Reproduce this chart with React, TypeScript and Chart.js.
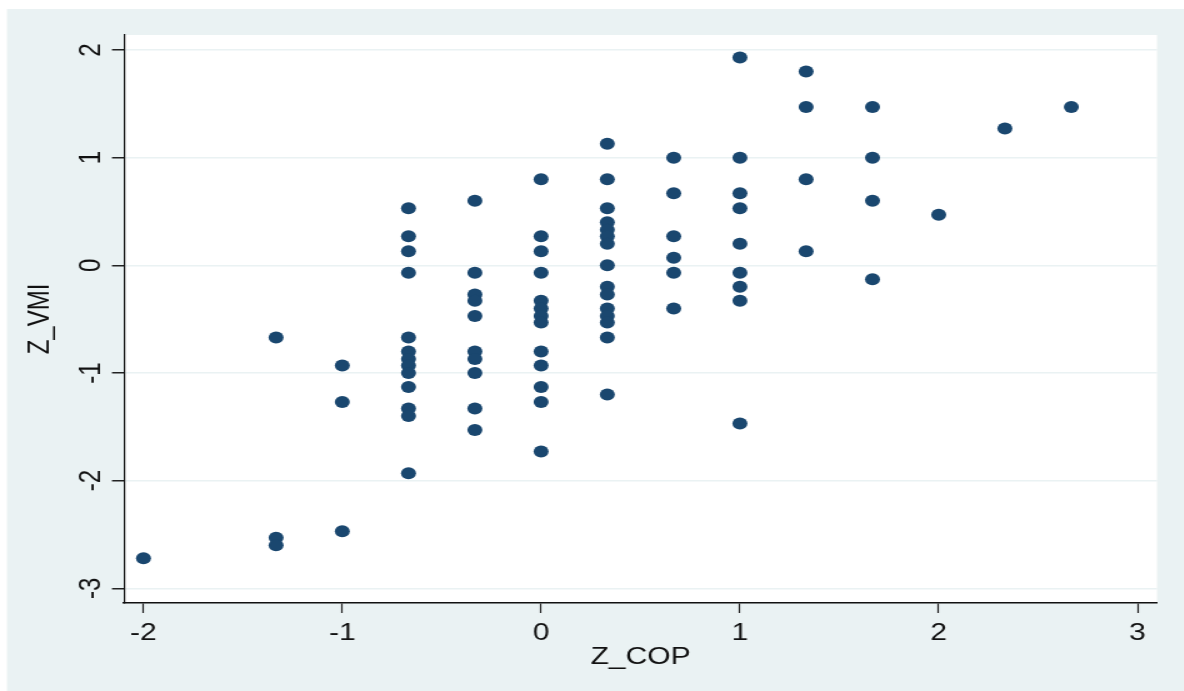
import React, { useEffect, useRef } from "react";
import { Chart, registerables } from "chart.js";

Chart.register(...registerables);

// Z_COP levels (x) and the Z_VMI values (y) observed at each level
const copLevels = [-2, -1.333, -1, -0.667, -0.333, 0, 0.333, 0.667, 1, 1.333, 1.667, 2, 2.333, 2.667];
const vmiAtLevel = [
  [-2.72],
  [-0.67, -2.53, -2.6],
  [-0.93, -1.27, -2.47],
  [0.53, 0.27, 0.13, -0.07, -0.67, -0.8, -0.87, -0.93, -1.0, -1.13, -1.33, -1.4, -1.93],
  [0.6, -0.07, -0.27, -0.33, -0.47, -0.8, -0.87, -1.0, -1.33, -1.53],
  [0.8, 0.27, 0.13, -0.07, -0.33, -0.4, -0.47, -0.53, -0.8, -0.93, -1.13, -1.27, -1.73],
  [1.13, 0.8, 0.53, 0.4, 0.33, 0.27, 0.2, 0, -0.2, -0.27, -0.4, -0.47, -0.53, -0.67, -1.2],
  [1.0, 0.67, 0.27, 0.07, -0.07, -0.4],
  [1.93, 1.0, 0.67, 0.53, 0.2, -0.07, -0.2, -0.33, -1.47],
  [1.8, 1.47, 0.8, 0.13],
  [1.47, 1.0, 0.6, -0.13],
  [0.47],
  [1.27],
  [1.47],
];

const xTicks = [-2, -1, 0, 1, 2, 3];
const yTicks = [-3, -2, -1, 0, 1, 2];
const xTitle = "Z_COP";
const yTitle = "Z_VMI";

const SX = 1.25;
const CW = 947;
const CH = 691;
const BG = "#EAF2F3";
const FONT = "24px 'Liberation Sans', Arial, sans-serif";

export default function App() {
  const ref = useRef<HTMLCanvasElement | null>(null);

  useEffect(() => {
    document.documentElement.style.overflow = "hidden";
    document.body.style.margin = "0";
    if (!ref.current) return;
    const points: { x: number; y: number }[] = [];
    copLevels.forEach((x, i) => vmiAtLevel[i].forEach((y) => points.push({ x, y })));

    const bgPlugin = {
      id: "bg",
      beforeDraw(chart: any) {
        const { ctx, chartArea: a } = chart;
        ctx.save();
        ctx.fillStyle = "#ffffff";
        ctx.fillRect(0, 0, chart.width, chart.height);
        ctx.fillStyle = BG;
        ctx.fillRect(7 / SX, 9, chart.width, chart.height);
        ctx.fillStyle = "#ffffff";
        ctx.fillRect(a.left, a.top, a.right - a.left, a.bottom - a.top);
        ctx.restore();
      },
      afterDraw(chart: any) {
        const { ctx, chartArea: a } = chart;
        const xs = chart.scales.x;
        const ys = chart.scales.y;
        ctx.save();
        ctx.fillStyle = "#111111";
        ctx.font = FONT;
        ctx.textAlign = "center";
        ctx.textBaseline = "alphabetic";
        xs.ticks.forEach((t: any) => {
          ctx.fillText(String(t.value), xs.getPixelForValue(t.value), 640);
        });
        ctx.fillText(xTitle, (a.left + a.right) / 2, 664);
        ys.ticks.forEach((t: any) => {
          ctx.save();
          ctx.translate(79.8, ys.getPixelForValue(t.value));
          ctx.rotate(-Math.PI / 2);
          ctx.fillText(String(t.value), 0, 0);
          ctx.restore();
        });
        ctx.save();
        ctx.translate(38.6, (a.top + a.bottom) / 2);
        ctx.rotate(-Math.PI / 2);
        ctx.fillText(yTitle, 0, 0);
        ctx.restore();
        ctx.restore();
      },
    };

    const chart = new Chart(ref.current, {
      type: "scatter",
      data: {
        datasets: [
          {
            data: points,
            backgroundColor: "#1a476f",
            borderColor: "#1a476f",
            borderWidth: 0,
            pointRadius: 6,
            pointHoverRadius: 6,
          },
        ],
      },
      options: {
        responsive: false,
        animation: false,
        devicePixelRatio: 1,
        layout: { padding: { left: 0, top: 35, right: CW - 925.6, bottom: 0 } },
        plugins: { legend: { display: false }, tooltip: { enabled: false } },
        scales: {
          x: {
            type: "linear",
            min: -2.098,
            max: 3.098,
            afterBuildTicks: (s: any) => {
              s.ticks = xTicks.map((v) => ({ value: v }));
            },
            afterFit: (s: any) => {
              s.height = CH - 603;
            },
            ticks: { display: false },
            grid: {
              display: true,
              drawOnChartArea: false,
              drawTicks: true,
              tickLength: 10,
              tickColor: "#222222",
              tickWidth: 1.2,
            },
            border: { display: true, color: "#111111", width: 1.5 },
          },
          y: {
            type: "linear",
            min: -3.136,
            max: 2.139,
            afterBuildTicks: (s: any) => {
              s.ticks = yTicks.map((v) => ({ value: v }));
            },
            afterFit: (s: any) => {
              s.width = 99.2;
            },
            ticks: { display: false },
            grid: {
              display: true,
              color: BG,
              lineWidth: 1.5,
              drawTicks: true,
              tickLength: 9.6,
              tickColor: "#222222",
              tickWidth: 1.5,
            },
            border: { display: true, color: "#111111", width: 1.2 },
          },
        },
      },
      plugins: [bgPlugin],
    });
    return () => chart.destroy();
  }, []);

  return (
    <div
      style={{
        width: CW,
        height: CH,
        transform: `scaleX(${SX})`,
        transformOrigin: "0 0",
      }}
    >
      <canvas ref={ref} width={CW} height={CH} style={{ display: "block", width: CW, height: CH }} />
    </div>
  );
}
